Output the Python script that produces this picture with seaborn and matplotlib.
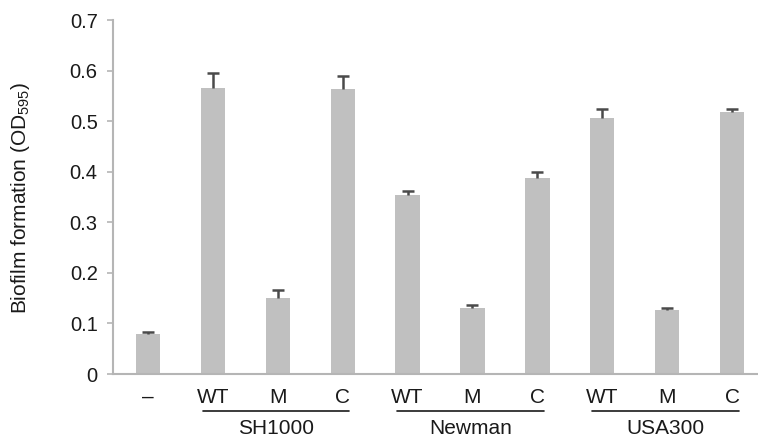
import numpy as np
import pandas as pd
import matplotlib
matplotlib.use("Agg")
import matplotlib.pyplot as plt
import matplotlib.transforms as mtransforms
import seaborn as sns

# ---- data ----
samples = ["neg", "SH1000 WT", "SH1000 M", "SH1000 C",
           "Newman WT", "Newman M", "Newman C",
           "USA300 WT", "USA300 M", "USA300 C"]
tick_labels = ["\u2013", "WT", "M", "C", "WT", "M", "C", "WT", "M", "C"]
means = [0.080, 0.566, 0.151, 0.563, 0.354, 0.131, 0.387, 0.506, 0.126, 0.518]
errors = [0.003, 0.030, 0.015, 0.026, 0.007, 0.006, 0.013, 0.018, 0.005, 0.007]
groups = ["SH1000", "Newman", "USA300"]
group_first = [1, 4, 7]
group_last = [3, 6, 9]
y_ticks = [0, 0.1, 0.2, 0.3, 0.4, 0.5, 0.6, 0.7]
y_tick_labels = ["0", "0.1", "0.2", "0.3", "0.4", "0.5", "0.6", "0.7"]

sns.set_style("white")
plt.rcParams["font.family"] = ["Liberation Sans", "DejaVu Sans"]
plt.rcParams["mathtext.fontset"] = "custom"
plt.rcParams["mathtext.rm"] = "Liberation Sans"
plt.rcParams["mathtext.it"] = "Liberation Sans:italic"

W, H = 758, 437
fig = plt.figure(figsize=(W / 100, H / 100), dpi=100)
ax = fig.add_axes([113 / W, 1 - 374 / H, (W - 113) / W, (374 - 20) / H])

df = pd.DataFrame({"sample": samples, "od": means})
sns.barplot(data=df, x="sample", y="od", color="#c0c0c0", saturation=1,
            width=0.375, errorbar=None, ax=ax, linewidth=0)

xs = [p.get_x() + p.get_width() / 2 for p in ax.patches]
eb = ax.errorbar(xs, means, yerr=[np.zeros(len(errors)), errors], fmt="none",
                 ecolor="#4a4a4a", elinewidth=1.8, capsize=4.5, capthick=1.8,
                 zorder=3)
# only the upper caps are drawn in the reference
eb[1][0].set_visible(False)

ax.set_xlim(-0.54, 9.40)
ax.set_ylim(0, 0.7)
ax.set_yticks(y_ticks)
ax.set_yticklabels(y_tick_labels)
ax.set_xticks(range(len(tick_labels)))
ax.set_xticklabels(tick_labels)
ax.set_xlabel("")
ax.set_ylabel("")

for side in ["top", "right"]:
    ax.spines[side].set_visible(False)
for side in ["left", "bottom"]:
    ax.spines[side].set_color("#b5b5b5")
    ax.spines[side].set_linewidth(1.5)

ax.tick_params(axis="y", length=4, width=1.2, color="#b5b5b5", direction="out",
               pad=7, labelsize=14.5, labelcolor="#1a1a1a", left=True)
ax.tick_params(axis="x", length=0, pad=10, labelsize=15, labelcolor="#1a1a1a")

trans = mtransforms.blended_transform_factory(ax.transData, ax.transAxes)
for name, a, b in zip(groups, group_first, group_last):
    x0, x1 = a - 0.16, b + 0.1
    ax.plot([x0, x1], [-0.1045, -0.1045], color="#1a1a1a", lw=1.2,
            transform=trans, clip_on=False)
    ax.text((x0 + x1) / 2, -0.155, name, transform=trans, ha="center",
            va="center", fontsize=15, color="#1a1a1a")

fig.text(21 / W, 1 - 198 / H, r"Biofilm formation (OD$_{\mathregular{595}}$)",
         rotation=90, ha="center", va="center", fontsize=15, color="#1a1a1a")

fig.savefig("out.png", dpi=100)
